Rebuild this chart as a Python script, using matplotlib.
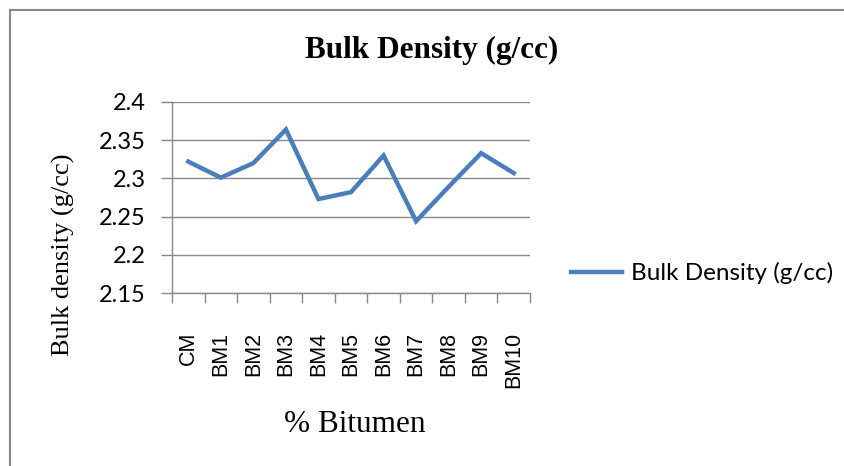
import matplotlib.pyplot as plt
from matplotlib.patches import Rectangle

# data
categories = ["CM", "BM1", "BM2", "BM3", "BM4", "BM5", "BM6", "BM7", "BM8", "BM9", "BM10"]
bulk_density = [2.322, 2.301, 2.320, 2.364, 2.273, 2.282, 2.330, 2.244, 2.289, 2.333, 2.307]
y_ticks = [2.15, 2.2, 2.25, 2.3, 2.35, 2.4]
y_tick_labels = ["2.15", "2.2", "2.25", "2.3", "2.35", "2.4"]

serif = "Liberation Serif"
sans = "Lato"
grey = "#888888"
W, H = 844, 466

fig = plt.figure(figsize=(8.44, 4.66), dpi=100)
ax = fig.add_axes([172 / W, 1 - 293 / H, 358 / W, 191 / H])

x = list(range(len(categories)))
ax.plot(x, bulk_density, color="#4A7EBB", linewidth=3.2, label="Bulk Density (g/cc)",
        solid_joinstyle="miter")

ax.set_xlim(-0.5, len(categories) - 0.5)
ax.set_ylim(2.15, 2.4)
ax.set_yticks(y_ticks)
ax.set_yticklabels(y_tick_labels, fontfamily=sans, fontsize=17)
ax.set_xticks([i - 0.5 for i in range(len(categories) + 1)], minor=False)
ax.set_xticklabels([])
ax.set_xticks(x, minor=True)
ax.set_xticklabels(categories, minor=True, rotation=90, fontfamily="Liberation Sans", fontsize=15.5)
ax.tick_params(axis="x", which="minor", length=0, pad=28)
ax.tick_params(axis="x", which="major", length=7, color=grey, width=1)
ax.tick_params(axis="y", length=8, color=grey, width=1, pad=11)

ax.grid(axis="y", color=grey, linewidth=1)
ax.set_axisbelow(True)
for s in ["top", "right"]:
    ax.spines[s].set_visible(False)
for s in ["left", "bottom"]:
    ax.spines[s].set_color(grey)
    ax.spines[s].set_linewidth(1)

fig.text(432 / W, 1 - 50 / H, "Bulk Density (g/cc)", fontfamily=serif, fontweight="bold",
         fontsize=22.5, ha="center", va="center")
fig.text(63 / W, 1 - 255 / H, "Bulk density (g/cc)", fontfamily=serif, fontsize=19,
         rotation=90, ha="center", va="center")
fig.text(355 / W, 1 - 425 / H, "% Bitumen", fontfamily=serif, fontsize=22.5,
         ha="center", va="center")

ax.legend(loc="center left", bbox_to_anchor=(571 / W, 1 - 273 / H), bbox_transform=fig.transFigure,
          frameon=False, prop={"family": sans, "size": 17.5}, handlelength=2.1, handletextpad=0.35,
          borderpad=0, borderaxespad=0)

# outer chart border (only top and left edges visible)
fig.patches.append(Rectangle((10 / W, -0.1), 1.2, 1 - 10 / H + 0.1, transform=fig.transFigure,
                             fill=False, edgecolor=grey, linewidth=1.5))

fig.savefig("out.png", dpi=100)
